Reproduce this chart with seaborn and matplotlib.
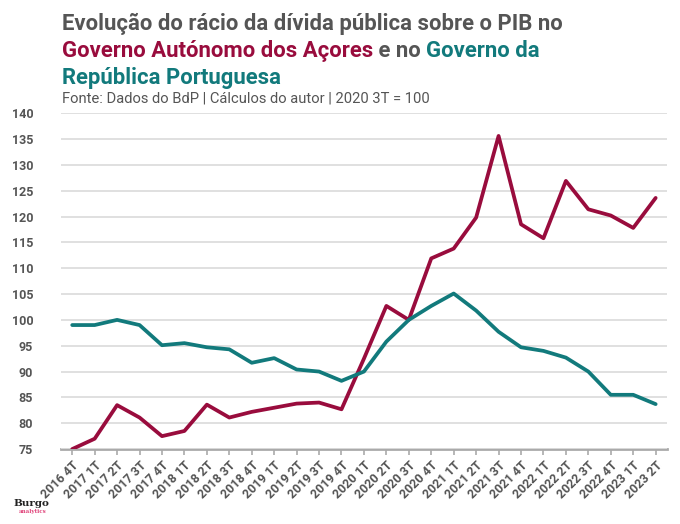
import matplotlib
matplotlib.use("Agg")
import matplotlib.pyplot as plt
import seaborn as sns
import pandas as pd
import numpy as np

quarters = ["2016 4T", "2017 1T", "2017 2T", "2017 3T", "2017 4T", "2018 1T", "2018 2T",
            "2018 3T", "2018 4T", "2019 1T", "2019 2T", "2019 3T", "2019 4T", "2020 1T",
            "2020 2T", "2020 3T", "2020 4T", "2021 1T", "2021 2T", "2021 3T", "2021 4T",
            "2022 1T", "2022 2T", "2022 3T", "2022 4T", "2023 1T", "2023 2T"]
acores = [75.0, 77.0, 83.5, 81.1, 77.5, 78.5, 83.6, 81.1, 82.2, 83.0, 83.8, 84.0, 82.7, 92.5,
          102.7, 100.0, 111.9, 113.8, 119.8, 135.6, 118.5, 115.8, 126.9, 121.4, 120.2, 117.8, 123.6]
portugal = [99.0, 99.0, 100.0, 99.0, 95.1, 95.5, 94.7, 94.3, 91.7, 92.6, 90.4, 90.0, 88.2, 90.0,
            95.8, 100.0, 102.7, 105.1, 101.8, 97.7, 94.7, 94.0, 92.7, 90.0, 85.5, 85.5, 83.7]
y_ticks = list(range(75, 141, 5))

MAG = "#990c3d"
TEAL = "#127a7c"
GREY = "#555555"

sns.set_theme(style="white")
plt.rcParams["font.family"] = ["Roboto", "DejaVu Sans"]

df = pd.DataFrame({
    "q": quarters * 2,
    "x": list(range(len(quarters))) * 2,
    "v": acores + portugal,
    "s": ["Açores"] * len(quarters) + ["Portugal"] * len(quarters),
})

fig = plt.figure(figsize=(6.8, 5.24), dpi=100)
ax = fig.add_axes([0.0897, 0.143, 0.891, 0.641])

sns.lineplot(data=df, x="x", y="v", hue="s", palette={"Açores": MAG, "Portugal": TEAL},
             linewidth=2.7, ax=ax, legend=False, sort=False)

ax.set_ylim(75, 140)
ax.set_xlim(-0.5, len(quarters) - 0.5)
ax.set_yticks(y_ticks)
ax.set_yticklabels([str(t) for t in y_ticks], fontsize=9, fontweight="bold", color=GREY)
ax.set_xticks(range(len(quarters)))
ax.set_xticklabels(quarters, rotation=45, ha="right", rotation_mode="anchor",
                   fontsize=9, fontweight="bold", color=GREY)
ax.set_xlabel("")
ax.set_ylabel("")
ax.grid(axis="y", color="#dddddd", linewidth=1.3)
ax.set_axisbelow(True)
for sp in ["top", "right", "left"]:
    ax.spines[sp].set_visible(False)
ax.spines["bottom"].set_color("#aaaaaa")
ax.spines["bottom"].set_linewidth(2)
ax.spines["bottom"].set_zorder(0.5)
ax.tick_params(axis="x", bottom=True, length=4, width=1.2, color="#aaaaaa", pad=3)
ax.tick_params(axis="y", left=False, pad=14)
for lab in ax.get_yticklabels():
    lab.set_horizontalalignment("right")

# Title with multicolor segments
fig.canvas.draw()
renderer = fig.canvas.get_renderer()
fs = 15.9

def seq(parts, x0, y):
    x = x0
    for txt, col in parts:
        t = fig.text(x, y, txt, fontsize=fs, fontweight="bold", color=col, va="baseline", ha="left")
        bb = t.get_window_extent(renderer=renderer)
        x += bb.width / fig.bbox.width

x0 = 62 / 680
seq([("Evolução do rácio da dívida pública sobre o PIB no", GREY)], x0, 1 - 30 / 524)
seq([("Governo Autónomo dos Açores", MAG), (" e no ", GREY), ("Governo da", TEAL)], x0, 1 - 57 / 524)
seq([("República Portuguesa", TEAL)], x0, 1 - 84 / 524)
fig.text(x0, 1 - 103 / 524, "Fonte: Dados do BdP | Cálculos do autor | 2020 3T = 100",
         fontsize=10.6, color=GREY, va="baseline", ha="left")

# Logo
fig.text(13 / 680, 1 - 506 / 524, "Burgo", fontsize=7.5, fontweight="bold", family="DejaVu Serif",
         color="#222222", va="baseline", ha="left")
fig.text(19 / 680, 1 - 513 / 524, "analytics", fontsize=4, fontweight="bold", family="DejaVu Serif",
         color="#e0457b", va="baseline", ha="left")

fig.savefig("out.png", dpi=100, facecolor="white")
